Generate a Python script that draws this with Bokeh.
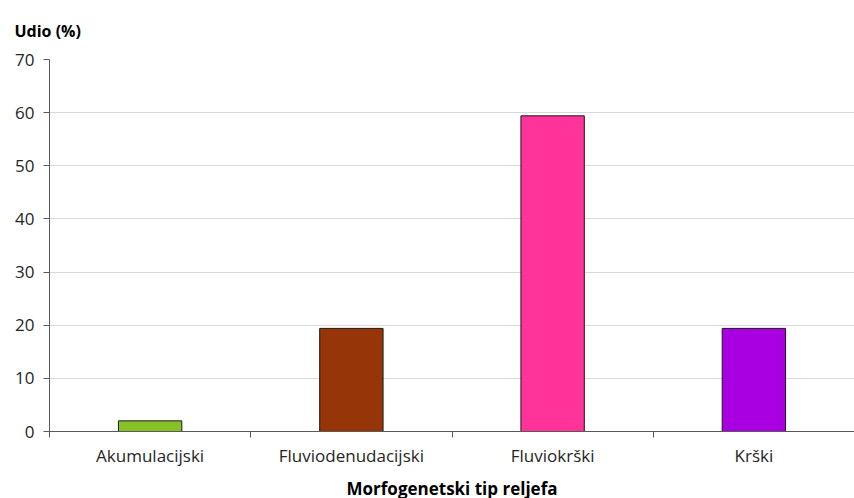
from bokeh.plotting import figure
from bokeh.models import FixedTicker, Range1d, ColumnDataSource, Title
from bokeh.embed import file_html
from bokeh.resources import INLINE

categories = ["Akumulacijski", "Fluviodenudacijski", "Fluviokrški", "Krški"]
values = [2.0, 19.4, 59.4, 19.4]
colors = ["#86C226", "#953508", "#FF3399", "#A800E0"]
y_ticks = [0, 10, 20, 30, 40, 50, 60, 70]

xs = [i + 0.5 for i in range(len(categories))]
src = ColumnDataSource(dict(x=xs, top=values, color=colors, name=categories))

FONT = "Open Sans"

p = figure(frame_width=805, frame_height=372, output_backend="svg", toolbar_location=None,
           x_range=Range1d(0, len(categories)), y_range=Range1d(0, 70),
           min_border_left=49, min_border_right=0, min_border_top=57, min_border_bottom=10)
p.outline_line_color = None
p.background_fill_color = "white"

p.vbar(x="x", top="top", width=0.315, bottom=0, fill_color="color",
       line_color="#1a1a1a", line_width=1, source=src)

# x axis: labels at centres, tick marks at category boundaries
xt = FixedTicker(ticks=xs, minor_ticks=list(range(len(categories) + 1)))
p.xaxis.ticker = xt
p.xaxis.major_label_overrides = {x: c for x, c in zip(xs, categories)}
p.xaxis.major_tick_line_color = None
p.xaxis.minor_tick_line_color = "#595959"
p.xaxis.minor_tick_out = 6
p.xaxis.minor_tick_in = 0
p.xaxis.axis_line_color = "#595959"
p.xaxis.major_label_text_font = FONT
p.xaxis.major_label_text_font_size = "17px"
p.xaxis.major_label_text_color = "#262626"
p.xaxis.major_label_standoff = 6
p.xaxis.axis_label = "Morfogenetski tip reljefa"
p.xaxis.axis_label_text_font = FONT
p.xaxis.axis_label_text_font_size = "17px"
p.xaxis.axis_label_text_font_style = "bold"
p.xaxis.axis_label_text_color = "#000000"
p.xaxis.axis_label_standoff = 7

p.yaxis.ticker = FixedTicker(ticks=y_ticks, minor_ticks=[])
p.yaxis.axis_line_color = "#595959"
p.yaxis.major_tick_line_color = "#595959"
p.yaxis.major_tick_out = 6
p.yaxis.major_tick_in = 0
p.yaxis.major_label_text_font = FONT
p.yaxis.major_label_text_font_size = "17px"
p.yaxis.major_label_text_color = "#262626"
p.yaxis.major_label_standoff = 9

p.xgrid.grid_line_color = None
p.ygrid.grid_line_color = "#d9d9d9"
p.ygrid.ticker = FixedTicker(ticks=y_ticks)

p.add_layout(Title(text="Udio (%)", align="left", offset=-35, standoff=35,
                   text_font=FONT, text_font_size="16px", text_font_style="bold",
                   text_color="#000000"), "above")

open("out.html", "w").write(file_html(p, INLINE))
